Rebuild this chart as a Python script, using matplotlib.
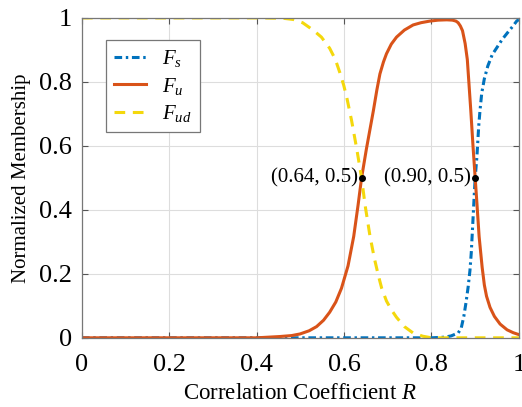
import matplotlib
matplotlib.use("Agg")
import matplotlib.pyplot as plt

plt.rcParams['font.family'] = ['Liberation Serif', 'DejaVu Serif']
plt.rcParams['mathtext.fontset'] = 'custom'
plt.rcParams['mathtext.rm'] = 'Liberation Serif'
plt.rcParams['mathtext.it'] = 'Liberation Serif:italic'

# membership curves sampled along R
r_s = [0.0, 0.80, 0.830, 0.845, 0.861, 0.868, 0.874, 0.879, 0.884, 0.888,
       0.891, 0.895, 0.898, 0.900, 0.904, 0.908, 0.911, 0.915, 0.921, 0.929,
       0.939, 0.951, 0.962, 0.973, 0.985, 0.995, 1.0]
f_s = [0.0, 0.0, 0.002, 0.006, 0.015, 0.03, 0.067, 0.11, 0.16, 0.21,
       0.265, 0.37, 0.45, 0.50, 0.567, 0.66, 0.71, 0.765, 0.81, 0.85,
       0.885, 0.91, 0.933, 0.952, 0.972, 0.99, 0.995]

r_u = [0.0, 0.40, 0.453, 0.480, 0.499, 0.520, 0.537, 0.553, 0.567, 0.581,
       0.594, 0.609, 0.622, 0.632, 0.640, 0.651, 0.659, 0.667, 0.675, 0.682,
       0.690, 0.697, 0.708, 0.720, 0.738, 0.758, 0.776, 0.796, 0.815, 0.835,
       0.848, 0.856, 0.861, 0.866, 0.871, 0.877, 0.882, 0.886, 0.890, 0.895,
       0.900, 0.904, 0.909, 0.916, 0.921, 0.926, 0.934, 0.944, 0.957, 0.973,
       0.987, 1.0]
f_u = [0.0, 0.0, 0.004, 0.007, 0.012, 0.022, 0.035, 0.055, 0.080, 0.112,
       0.155, 0.225, 0.317, 0.415, 0.50, 0.59, 0.65, 0.71, 0.775, 0.825,
       0.862, 0.888, 0.918, 0.94, 0.962, 0.978, 0.985, 0.99, 0.993, 0.994,
       0.993, 0.99, 0.985, 0.975, 0.96, 0.92, 0.87, 0.79, 0.71, 0.60,
       0.50, 0.42, 0.317, 0.22, 0.165, 0.13, 0.095, 0.067, 0.043, 0.025,
       0.016, 0.01]

r_ud = [0.0, 0.40, 0.460, 0.484, 0.505, 0.529, 0.548, 0.567, 0.580, 0.590,
        0.599, 0.606, 0.617, 0.629, 0.640, 0.648, 0.659, 0.669, 0.678, 0.686,
        0.697, 0.708, 0.720, 0.738, 0.758, 0.780, 0.80, 1.0]
f_ud = [1.0, 1.0, 0.999, 0.995, 0.985, 0.962, 0.94, 0.905, 0.87, 0.83,
        0.79, 0.752, 0.68, 0.59, 0.50, 0.415, 0.32, 0.25, 0.197, 0.155,
        0.115, 0.088, 0.064, 0.035, 0.015, 0.005, 0.0, 0.0]

cross_r = [0.64, 0.90]
cross_f = [0.5, 0.5]
cross_labels = ['(0.64, 0.5)', '(0.90, 0.5)']

fig = plt.figure(figsize=(5.22, 4.07), dpi=100)
ax = fig.add_axes([0.157, 0.170, 0.837, 0.786])

ax.plot(r_s, f_s, color='#0072BD', lw=2.2, ls=(0, (2.5, 1.2, 0.8, 1.2)), label='$F_s$')
ax.plot(r_u, f_u, color='#D95319', lw=2.2, label='$F_u$')
ax.plot(r_ud, f_ud, color='#F4D80C', lw=2.2, ls=(0, (3.5, 2.5)), label='$F_{ud}$')

ax.plot(cross_r, cross_f, 'o', color='black', ms=4, zorder=5)
for xr, yf, txt in zip(cross_r, cross_f, cross_labels):
    ax.text(xr - 0.009, yf, txt, ha='right', va='center', fontsize=15)

ax.set_xlim(0, 1)
ax.set_ylim(0, 1)
ax.set_xticks([0, 0.2, 0.4, 0.6, 0.8, 1])
ax.set_xticklabels(['0', '0.2', '0.4', '0.6', '0.8', '1'])
ax.set_yticks([0, 0.2, 0.4, 0.6, 0.8, 1])
ax.set_yticklabels(['0', '0.2', '0.4', '0.6', '0.8', '1'])
ax.tick_params(direction='in', top=True, right=True, length=4, width=0.8,
               color='#555555', labelsize=19)
ax.tick_params(axis='x', pad=12)
ax.tick_params(axis='y', pad=7)
ax.grid(True, color='#DDDDDD', lw=0.8)
for sp in ax.spines.values():
    sp.set_color('#777777')
    sp.set_linewidth(0.9)

ax.set_xlabel('Correlation Coefficient $R$', fontsize=16.5, labelpad=5)
ax.set_ylabel('Normalized Membership', fontsize=15, labelpad=6)

leg = ax.legend(loc='upper left', bbox_to_anchor=(0.055, 0.931), borderaxespad=0,
                fontsize=15, fancybox=False, edgecolor='#777777', framealpha=1,
                handlelength=1.5, handletextpad=0.8, borderpad=0.4, labelspacing=0.3)
leg.get_frame().set_linewidth(0.9)

fig.savefig('out.png', dpi=100)
